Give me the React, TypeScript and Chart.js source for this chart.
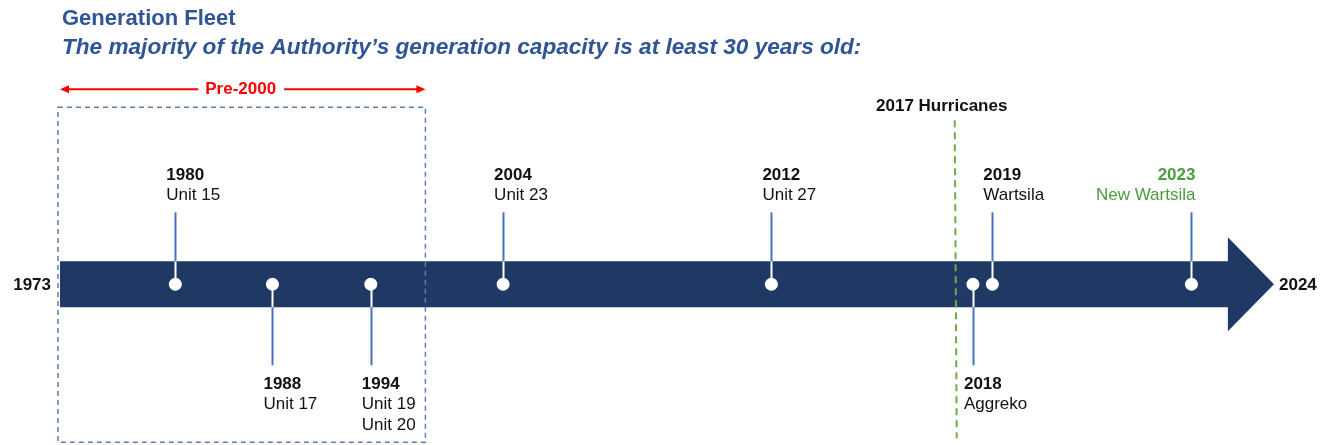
import React, { useEffect, useRef } from "react";
import { Chart, registerables } from "chart.js";

Chart.register(...registerables);

// Milestones along the timeline (position = % of timeline from 1973 to 2024, as drawn)
const milestoneYears = ["1980", "1988", "1994", "2004", "2012", "2018", "2019", "2023"];
const milestoneNames = [["Unit 15"], ["Unit 17"], ["Unit 19", "Unit 20"], ["Unit 23"], ["Unit 27"], ["Aggreko"], ["Wartsila"], ["New Wartsila"]];
const milestonePos = [9.5, 17.5, 25.6, 36.5, 58.6, 75.2, 76.8, 93.2];
const milestoneSide = ["up", "down", "down", "up", "up", "down", "up", "up"];
const milestoneHighlight = [false, false, false, false, false, false, false, true];

const timelineStart = "1973";
const timelineEnd = "2024";
const pre2000Label = "Pre-2000";
const pre2000EndPos = 30.1;
const hurricaneLabel = "2017 Hurricanes";
const hurricanePos = 73.7;
const arrowHeadPos = 96.2;

const titleText = "Generation Fleet";
const subtitleText = "The majority of the Authority\u2019s generation capacity is at least 30 years old:";

const NAVY = "#203864";
const STEM = "#4472C4";
const GREEN = "#4A9A3E";
const TITLE_BLUE = "#2F5597";
const FONT = "'Liberation Sans', Arial, sans-serif";

const timelinePlugin = {
  id: "timeline",
  beforeDatasetsDraw(chart: any) {
    const { ctx, scales } = chart;
    const xs = scales.x;
    const ys = scales.y;
    const yc = ys.getPixelForValue(0);
    const x0 = xs.getPixelForValue(0);
    const xHead = xs.getPixelForValue(arrowHeadPos);
    const xTip = xs.getPixelForValue(100);
    ctx.save();
    // arrow body + head
    ctx.fillStyle = NAVY;
    ctx.beginPath();
    ctx.moveTo(x0, yc - 23);
    ctx.lineTo(xHead, yc - 23);
    ctx.lineTo(xHead, yc - 47);
    ctx.lineTo(xTip, yc);
    ctx.lineTo(xHead, yc + 47);
    ctx.lineTo(xHead, yc + 23);
    ctx.lineTo(x0, yc + 23);
    ctx.closePath();
    ctx.fill();

    // stems
    milestonePos.forEach((p, i) => {
      const x = Math.round(xs.getPixelForValue(p)) + 0.5;
      const up = milestoneSide[i] === "up";
      ctx.lineWidth = 2;
      ctx.strokeStyle = "#FFFFFF";
      ctx.beginPath();
      ctx.moveTo(x, yc);
      ctx.lineTo(x, up ? yc - 23 : yc + 23);
      ctx.stroke();
      ctx.strokeStyle = STEM;
      ctx.beginPath();
      ctx.moveTo(x, up ? yc - 23 : yc + 23);
      ctx.lineTo(x, up ? yc - 72 : yc + 81);
      ctx.stroke();
    });

    // pre-2000 dashed box
    const xb1 = xs.getPixelForValue(pre2000EndPos);
    ctx.strokeStyle = "#5B7FB8";
    ctx.lineWidth = 1.5;
    ctx.setLineDash([5, 4]);
    ctx.strokeRect(x0 - 2, yc - 177, xb1 - x0 + 2, 335);

    // hurricane line
    const xh = xs.getPixelForValue(hurricanePos);
    ctx.strokeStyle = "#70AD47";
    ctx.lineWidth = 2;
    ctx.setLineDash([7, 5]);
    ctx.beginPath();
    ctx.moveTo(xh, yc - 164);
    ctx.lineTo(xh + 2, yc + 154);
    ctx.stroke();
    ctx.setLineDash([]);
    ctx.restore();
  },
  afterDraw(chart: any) {
    const { ctx, scales } = chart;
    const xs = scales.x;
    const ys = scales.y;
    const yc = ys.getPixelForValue(0);
    const x0 = xs.getPixelForValue(0);
    const xTip = xs.getPixelForValue(100);
    ctx.save();
    ctx.textBaseline = "middle";

    // title
    ctx.fillStyle = TITLE_BLUE;
    ctx.textAlign = "left";
    ctx.font = `bold 22px ${FONT}`;
    ctx.fillText(titleText, 62, 19);
    ctx.font = `italic bold 22.6px ${FONT}`;
    ctx.fillText(subtitleText, 62, 48);

    // endpoints
    ctx.fillStyle = "#111111";
    ctx.font = `bold 17px ${FONT}`;
    ctx.textAlign = "right";
    ctx.fillText(timelineStart, x0 - 9, yc + 1);
    ctx.textAlign = "left";
    ctx.fillText(timelineEnd, xTip + 5, yc + 1);

    // hurricanes label
    const xh = xs.getPixelForValue(hurricanePos);
    ctx.textAlign = "center";
    ctx.fillText(hurricaneLabel, xh - 13, yc - 178);

    // pre-2000 arrow
    const xb1 = xs.getPixelForValue(pre2000EndPos);
    const yA = yc - 195;
    const mid = (x0 + xb1) / 2 - 2;
    ctx.font = `bold 17px ${FONT}`;
    ctx.fillStyle = "#FF0000";
    ctx.fillText(pre2000Label, mid, yA);
    const tw = ctx.measureText(pre2000Label).width;
    ctx.strokeStyle = "#FF0000";
    ctx.lineWidth = 2;
    ctx.beginPath();
    ctx.moveTo(x0 + 4, yA);
    ctx.lineTo(mid - tw / 2 - 7, yA);
    ctx.moveTo(mid + tw / 2 + 8, yA);
    ctx.lineTo(xb1 - 4, yA);
    ctx.stroke();
    ctx.beginPath();
    ctx.moveTo(x0, yA);
    ctx.lineTo(x0 + 9, yA - 4);
    ctx.lineTo(x0 + 9, yA + 4);
    ctx.closePath();
    ctx.moveTo(xb1, yA);
    ctx.lineTo(xb1 - 9, yA - 4);
    ctx.lineTo(xb1 - 9, yA + 4);
    ctx.closePath();
    ctx.fill();

    // milestone labels
    milestonePos.forEach((p, i) => {
      const x = xs.getPixelForValue(p);
      const up = milestoneSide[i] === "up";
      const hl = milestoneHighlight[i];
      ctx.fillStyle = hl ? GREEN : "#111111";
      ctx.textAlign = hl ? "right" : "left";
      const tx = hl ? x + 4 : x - 9;
      const lines = [milestoneYears[i], ...milestoneNames[i]];
      const yStart = up ? yc - 109 : yc + 100;
      lines.forEach((t, j) => {
        ctx.font = j === 0 ? `bold 17px ${FONT}` : `17px ${FONT}`;
        ctx.fillText(t, tx, yStart + j * 20.5);
      });
    });
    ctx.restore();
  },
};

export default function App() {
  const canvasRef = useRef<HTMLCanvasElement | null>(null);
  useEffect(() => {
    if (!canvasRef.current) return;
    const chart = new Chart(canvasRef.current, {
      type: "scatter",
      data: {
        labels: milestoneYears,
        datasets: [
          {
            data: milestonePos.map((p) => ({ x: p, y: 0 })),
            pointRadius: 6.5,
            pointBackgroundColor: "#FFFFFF",
            pointBorderWidth: 0,
            pointBorderColor: "#FFFFFF",
          },
        ],
      },
      options: {
        responsive: false,
        animation: false,
        events: [],
        layout: { padding: { left: 60, right: 56, top: 130, bottom: 1 } },
        plugins: { legend: { display: false }, tooltip: { enabled: false }, title: { display: false } },
        scales: {
          x: { type: "linear", min: 0, max: 100, display: false },
          y: { type: "linear", min: -1, max: 1, display: false },
        },
      },
      plugins: [timelinePlugin],
    });
    return () => chart.destroy();
  }, []);
  return (
    <div style={{ position: "absolute", left: 0, top: 0, width: 1330, height: 445, background: "#fff" }}>
      <canvas ref={canvasRef} width={1330} height={445} />
    </div>
  );
}
